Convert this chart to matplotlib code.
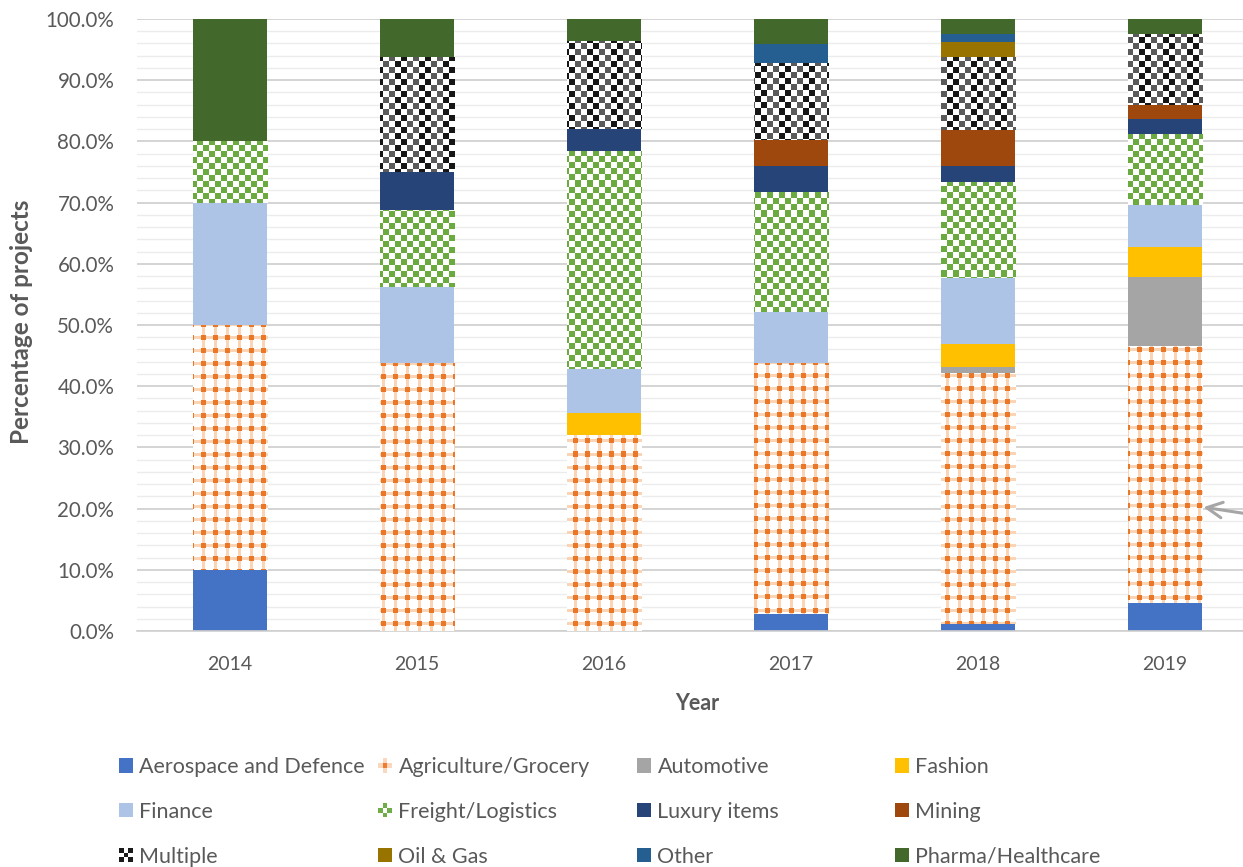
import numpy as np
import matplotlib.pyplot as plt
from matplotlib.patches import Rectangle, Patch
from matplotlib.legend_handler import HandlerBase

plt.rcParams['font.family'] = ['Lato', 'DejaVu Sans']

years = ['2014', '2015', '2016', '2017', '2018', '2019']

# share of projects per sector, in percent
aerospace = [10.0, 0.0, 0.0, 2.7, 1.1, 4.5]
agriculture = [40.0, 43.75, 32.1, 41.1, 41.1, 42.0]
automotive = [0.0, 0.0, 0.0, 0.0, 1.0, 11.4]
fashion = [0.0, 0.0, 3.6, 0.0, 3.7, 4.9]
finance = [20.0, 12.5, 7.1, 8.3, 10.7, 6.8]
freight = [10.0, 12.5, 35.7, 19.7, 15.8, 11.6]
luxury = [0.0, 6.25, 3.6, 4.2, 2.5, 2.5]
mining = [0.0, 0.0, 0.0, 4.2, 6.0, 2.3]
multiple = [0.0, 18.75, 14.3, 12.6, 11.9, 11.6]
oil_gas = [0.0, 0.0, 0.0, 0.0, 2.5, 0.0]
other = [0.0, 0.0, 0.0, 3.1, 1.3, 0.0]
pharma = [20.0, 6.25, 3.6, 4.1, 2.4, 2.4]

sectors = [
    ('Aerospace and Defence', aerospace, '#4472c4', None),
    ('Agriculture/Grocery', agriculture, '#ed7d31', 'dots'),
    ('Automotive', automotive, '#a5a5a5', None),
    ('Fashion', fashion, '#ffc000', None),
    ('Finance', finance, '#aec4e6', None),
    ('Freight/Logistics', freight, '#70ad47', 'checker'),
    ('Luxury items', luxury, '#264478', None),
    ('Mining', mining, '#9e480e', None),
    ('Multiple', multiple, '#1a1a1a', 'bigchecker'),
    ('Oil & Gas', oil_gas, '#997300', None),
    ('Other', other, '#255e91', None),
    ('Pharma/Healthcare', pharma, '#43682b', None),
]

W_PX, H_PX = 1243, 867
ax_left, ax_right, ax_bottom, ax_top = 136.5, 1258.5, 631, 19


def rgb(h):
    h = h.lstrip('#')
    return np.array([int(h[i:i + 2], 16) / 255 for i in (0, 2, 4)])


def make_texture(kind, w, h):
    yy, xx = np.mgrid[0:h, 0:w]
    img = np.ones((h, w, 3))
    if kind == 'dots':
        px, py = xx % 12, yy % 13
        band = (np.abs(px - 6) <= 1) | (np.abs(py - 6) <= 1)
        img[band] = rgb('#fbd3b5')
        sq = (np.abs(px - 6) <= 2.5) & (np.abs(py - 6) <= 2.5)
        img[sq] = rgb('#ea7628')
    elif kind == 'checker':
        ci, cj = yy // 6, xx // 6
        img[(ci + cj) % 2 == 0] = rgb('#6aaa3f')
    elif kind == 'bigchecker':
        ci, cj = yy // 6, xx // 6
        dark = (ci + cj) % 2 == 0
        black = dark & (((cj - ci % 2) // 2 + ci) % 2 == 0)
        img[dark] = rgb('#5a5a5a')
        img[black] = rgb('#161616')
    return img


fig = plt.figure(figsize=(W_PX / 100, H_PX / 100), dpi=100)
ax = fig.add_axes([ax_left / W_PX, 1 - ax_bottom / H_PX,
                   (ax_right - ax_left) / W_PX, (ax_bottom - ax_top) / H_PX])

x = np.arange(len(years))
xlim = (-0.5, len(years) - 0.5)
tex_w, tex_h = int(ax_right - ax_left), int(ax_bottom - ax_top)
textures = {}

bottom = np.zeros(len(years))
for name, vals, color, pattern in sectors:
    vals = np.array(vals)
    if pattern is None:
        ax.bar(x, vals, 0.4, bottom=bottom, color=color, linewidth=0, zorder=2)
    else:
        bars = ax.bar(x, vals, 0.4, bottom=bottom, color='white', linewidth=0, zorder=2)
        if pattern not in textures:
            textures[pattern] = make_texture(pattern, tex_w, tex_h)
        for b, v in zip(bars, vals):
            if v <= 0:
                continue
            im = ax.imshow(textures[pattern], extent=(xlim[0], xlim[1], 0, 100),
                           origin='upper', interpolation='nearest', aspect='auto', zorder=3)
            im.set_clip_path(b)
    bottom += vals

ax.set_xlim(*xlim)
ax.set_ylim(0, 100)
ax.set_xticks(x)
ax.set_xticklabels(years)
ax.set_yticks(np.arange(0, 101, 10))
ax.set_yticklabels([f'{v:.1f}%' for v in np.arange(0, 101, 10)])
ax.set_yticks(np.arange(0, 101, 2), minor=True)
ax.tick_params(axis='both', which='both', length=0, labelcolor='#595959')
ax.tick_params(axis='x', pad=18, labelsize=14)
ax.tick_params(axis='y', pad=16, labelsize=14.8)
ax.grid(axis='y', which='major', color='#d4d4d4', linewidth=1.4, zorder=0)
ax.grid(axis='y', which='minor', color='#ececec', linewidth=1.0, zorder=0)
ax.set_axisbelow(True)
for s in ['top', 'right', 'left']:
    ax.spines[s].set_visible(False)
ax.spines['bottom'].set_color('#d0d0d0')
ax.spines['bottom'].set_linewidth(1.2)

fig.text(697 / W_PX, 1 - 703 / H_PX, 'Year', ha='center', va='center',
         fontsize=15.5, fontweight='bold', color='#595959')
fig.text(22 / W_PX, 1 - 322 / H_PX, 'Percentage of projects', ha='center', va='center',
         rotation=90, fontsize=17.5, fontweight='bold', color='#595959')

ax.annotate('', xy=(5.19, 20.3), xytext=(5.47, 19.0),
            arrowprops=dict(arrowstyle='->', color='#a6a6a6', lw=2.2, mutation_scale=28),
            annotation_clip=False)


class TileHandler(HandlerBase):
    def __init__(self, grid):
        super().__init__()
        self.grid = grid

    def legend_artist(self, legend, orig_handle, fontsize, handlebox):
        x0, y0 = -handlebox.xdescent, -handlebox.ydescent
        w, h = handlebox.width, handlebox.height
        n = len(self.grid)
        for r, row in enumerate(self.grid):
            for c, col in enumerate(row):
                rect = Rectangle((x0 + c * w / n, y0 + h - (r + 1) * h / n), w / n, h / n,
                                 facecolor=col, edgecolor='none',
                                 transform=handlebox.get_transform())
                handlebox.add_artist(rect)
        return rect


wh, og, lo, gr, bk = 'white', '#ed7d31', '#fbd7bd', '#70ad47', '#1a1a1a'
tiles = {
    'dots': [[wh, lo, wh], [lo, og, lo], [wh, lo, wh]],
    'checker': [[wh, gr, wh], [gr, wh, gr], [wh, gr, wh]],
    'bigchecker': [[bk, wh, bk], [wh, bk, wh], [bk, wh, bk]],
}

handles, labels, handler_map = [], [], {}
for name, vals, color, pattern in sectors:
    h = Patch(facecolor=color, edgecolor='none')
    if pattern is not None:
        handler_map[h] = TileHandler(tiles[pattern])
    handles.append(h)
    labels.append(name)

# four legend columns, laid out row by row
col_x = [119, 378, 637, 895]
for c in range(4):
    idx = [c, c + 4, c + 8]
    fig.legend([handles[i] for i in idx], [labels[i] for i in idx],
               handler_map=handler_map, loc='upper left',
               bbox_to_anchor=(col_x[c] / W_PX, 1 - 757 / H_PX),
               frameon=False, fontsize=15.5, labelcolor='#595959',
               handlelength=0.65, handleheight=0.65, handletextpad=0.3,
               labelspacing=1.15, borderpad=0, borderaxespad=0)

fig.savefig('out.png', dpi=100)
